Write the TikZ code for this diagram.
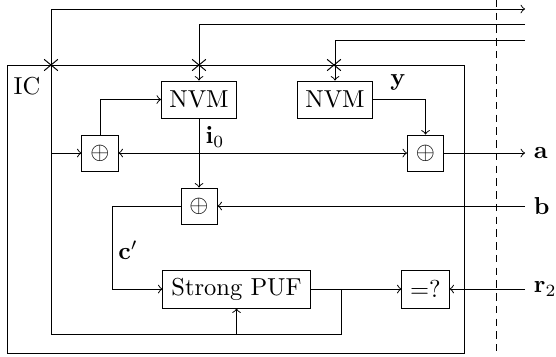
\documentclass[tikz,border=0pt]{standalone}
\usetikzlibrary{shapes.misc}
\begin{document}
\begin{tikzpicture}[x=0.408pt,y=-0.408pt,
  box/.style={draw,inner sep=0pt,minimum width=30.6pt,minimum height=15.1pt},
  xorbox/.style={draw,inner sep=0pt,minimum size=14.7pt},
  crossm/.style={cross out,draw,inner sep=0pt,minimum width=5.2pt,minimum height=4.2pt},
  lbl/.style={inner sep=1pt},
  >=to]
\useasboundingbox (0,0) rectangle (556,356);
% IC boundary and dashed line
\draw (7,65) rectangle (464,353);
\node[lbl] (ic) at (27,86) {IC};
\draw[dashed,dash pattern=on 3pt off 2.2pt] (496,0) -- (496,356);
% nodes
\node[box] (nvmA) at (199,99.5) {NVM};
\node[box] (nvmB) at (335,99.5) {NVM};
\node[xorbox] (xorA) at (100,153) {$\oplus$};
\node[xorbox] (xorB) at (199,206) {$\oplus$};
\node[xorbox] (xorC) at (425.5,153) {$\oplus$};
\node[box,minimum width=60pt,minimum height=15.5pt] (puf) at (236.5,289) {Strong PUF};
\node[box,minimum width=19.2pt,minimum height=15.5pt] (cmp) at (425.5,289) {$=?$};
\node[crossm] (crA) at (51,65) {};
\node[crossm] (crB) at (199,65) {};
\node[crossm] (crC) at (334,65) {};
% coordinates
\coordinate (outA) at (525,9);
\coordinate (outB) at (525,24);
\coordinate (outC) at (525,40);
\coordinate (aEnd) at (525,153);
\coordinate (bIn) at (525,206);
\coordinate (rIn) at (525,289);
\coordinate (loopBL) at (51,334);
\coordinate (loopBR) at (341,334);
\coordinate (pufTap) at (341,289);
\coordinate (pufBot) at (236.5,334);
\coordinate (cTurn) at (112,206);
\node[lbl,anchor=west] (la) at (531,153) {$\mathbf{a}$};
\node[lbl,anchor=west] (lb) at (531,206) {$\mathbf{b}$};
\node[lbl,anchor=west] (lr) at (531,289) {$\mathbf{r}_2$};
\node[lbl] (ly) at (398,82) {$\mathbf{y}$};
\node[lbl] (li) at (215,137) {$\mathbf{i}_0$};
\node[lbl] (lc) at (128,250) {$\mathbf{c}'$};
% connectors
\draw[->] (loopBL) |- (outA);
\draw[->] (51,153) -- (xorA.west);
\draw[->] (outB) -| (nvmA.north);
\draw[->] (outC) -| (nvmB.north);
\draw[->] (xorA.north) |- (nvmA.west);
\draw[<->] (xorA.east) -- (xorC.west);
\draw[->] (nvmA.south) -- (xorB.north);
\draw[->] (nvmB.east) -| (xorC.north);
\draw[->] (xorC.east) -- (aEnd);
\draw[->] (bIn) -- (xorB.east);
\draw[->] (xorB.west) -- (cTurn) |- (puf.west);
\draw[->] (puf.east) -- (cmp.west);
\draw (pufTap) -- (loopBR) -- (loopBL);
\draw[->] (pufBot) -- (puf.south);
\draw[->] (rIn) -- (cmp.east);
\end{tikzpicture}
\end{document}
